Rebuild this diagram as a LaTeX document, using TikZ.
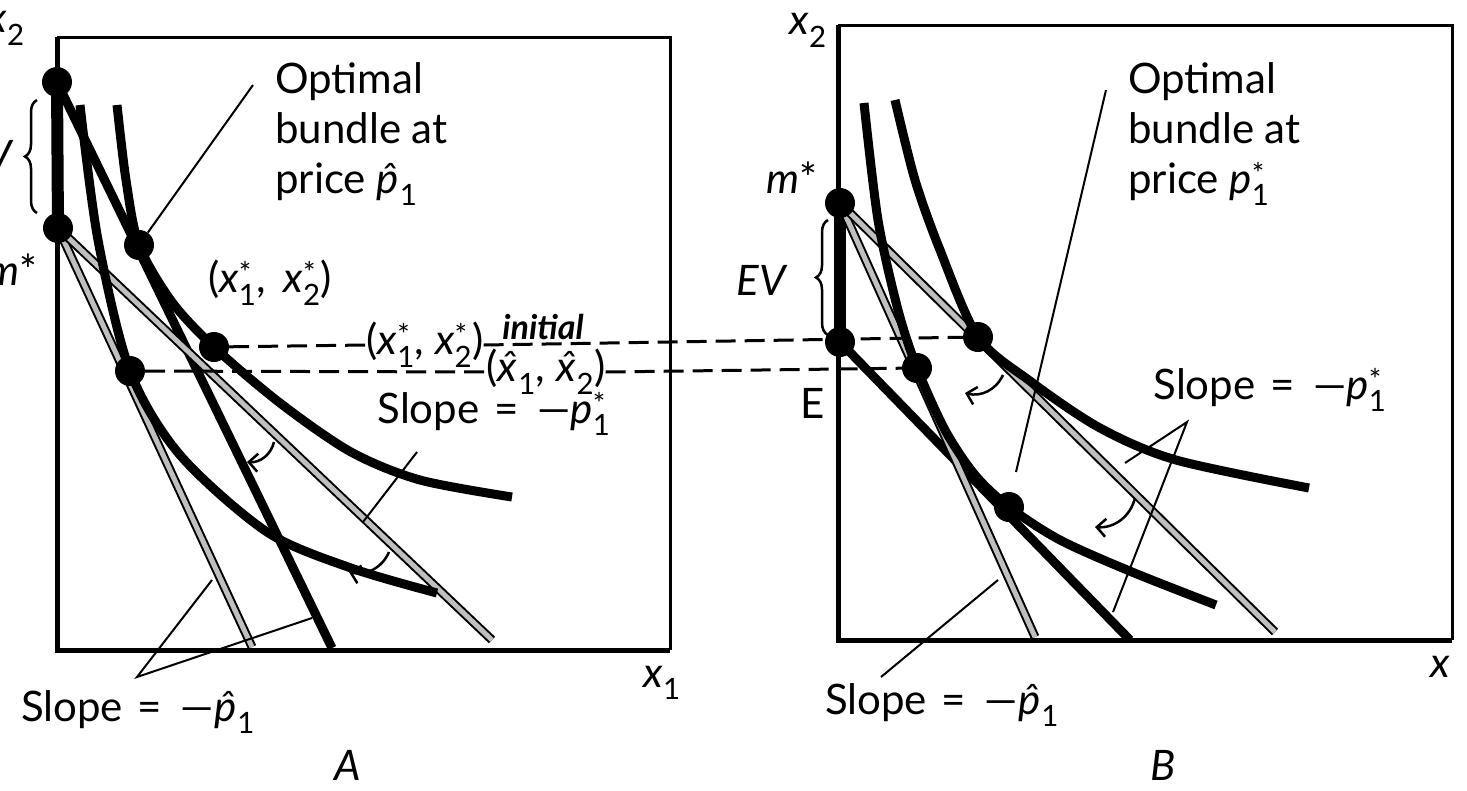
\documentclass[tikz,border=0pt]{standalone}
\usepackage{fontspec}
\setmainfont{Lato}
\usetikzlibrary{arrows.meta,decorations.pathreplacing,positioning}
\newcommand{\xst}[1]{\textit{x}\rlap{\textsuperscript{*}}\textsubscript{#1}}
\newcommand{\xht}[1]{\textit{\^{x}}\textsubscript{#1}}
\newcommand{\pst}{\textit{p}\rlap{\textsuperscript{*}}\textsubscript{1}}
\newcommand{\pht}{\textit{\^{p}}\textsubscript{1}}
\newcommand{\slopeis}{Slope\hspace{0.35em}=\hspace{0.45em}—}
\begin{document}
\begin{tikzpicture}[x=1pt,y=-1pt,
  every node/.style={font=\fontsize{42}{50}\selectfont,inner sep=0pt},
  axisline/.style={line width=5pt},
  frameline/.style={line width=3pt},
  indiff/.style={line width=9pt},
  budget/.style={line width=2pt,double=black!25,double distance=5pt},
  pointer/.style={line width=2pt},
  guide/.style={line width=3pt,dash pattern=on 20pt off 9pt},
  bullet/.style={circle,fill=black,minimum size=30pt},
  move/.style={line width=2.5pt,-{Straight Barb[length=9pt,width=18pt]}},
  brace/.style={decorate,decoration={brace,amplitude=12pt},line width=2.5pt}]
\useasboundingbox (0,0) rectangle (1467,790);
% panel A
\coordinate (Atop) at (57,82);
\coordinate (Am) at (58,228);
\coordinate (Ap) at (139,245);
\coordinate (Ax) at (214,347);
\coordinate (Ah) at (130,371);
\draw[frameline] (57,37) -- (670,37) -- (670,650);
\draw[axisline] (57,37) -- (57,650) -- (670,650);
\draw[line width=12pt] (Atop) -- (Am);
\draw[indiff] (Atop) -- (332,648);
\draw[budget] (Am) -- (252,647);
\draw[budget] (Am) -- (492,640);
\draw[indiff] plot[smooth] coordinates {(117,105) (126,180) (139,245) (172,302) (214,347) (280,403) (351,452) (420,480) (512,497)};
\draw[indiff] plot[smooth] coordinates {(80,105) (98,240) (130,371) (180,455) (267,532) (351,568) (437,593)};
\node[bullet] (dAtop) at (Atop) {};
\node[bullet] (dAm) at (Am) {};
\node[bullet] (dAp) at (Ap) {};
\node[bullet] (dAx) at (Ax) {};
\node[bullet] (dAh) at (Ah) {};
\node[anchor=east] (Ax2) at (25,28) {\textit{x}\textsubscript{2}};
\node[anchor=east] (Acv) at (14,155) {\textit{CV}};
\node[anchor=east] (Amst) at (38,270) {\textit{m}*};
\draw[brace] (37,213) -- (37,100);
\node (AxsUp) at (270,283) {(\xst{1},\, \xst{2})};
\node[anchor=north west,align=left] (AOpt) at (275,62) {Optimal\\bundle at\\price \pht};
\coordinate (AOptEnd) at (253,85);
\draw[pointer] (AOptEnd) -- (dAp);
% panel B
\coordinate (Bm) at (840,203);
\coordinate (BE) at (840,342);
\coordinate (Bmid) at (917,368);
\coordinate (Bright) at (978,337);
\coordinate (Blow) at (1009,507);
\draw[frameline] (838,25) -- (1452,25) -- (1452,640);
\draw[axisline] (838,25) -- (838,640) -- (1452,640);
\draw[line width=12pt] (Bm) -- (BE);
\draw[indiff] (BE) -- (1130,640);
\draw[budget] (Bm) -- (1035,637);
\draw[budget] (Bm) -- (1275,632);
\draw[indiff] plot[smooth] coordinates {(895,100) (915,180) (940,250) (978,337) (1030,381) (1100,428) (1176,460) (1309,488)};
\draw[indiff] plot[smooth] coordinates {(864,103) (878,220) (898,310) (917,368) (945,430) (975,475) (1009,507) (1060,540) (1132,572) (1216,605)};
\node[bullet] (dBm) at (Bm) {};
\node[bullet] (dBE) at (BE) {};
\node[bullet] (dBmid) at (Bmid) {};
\node[bullet] (dBright) at (Bright) {};
\node[bullet] (dBlow) at (Blow) {};
\node (Bx2) at (808,30) {\textit{x}\textsubscript{2}};
\node (Bmst) at (792,178) {\textit{m}*};
\node (BEV) at (762,280) {\textit{EV}};
\draw[brace] (828,335) -- (828,220);
\node (BElab) at (813,403) {E};
\node[anchor=north west,align=left] (BOpt) at (1128,62) {Optimal\\bundle at\\price \pst};
\coordinate (BOptEnd) at (1106,90);
\coordinate (BOptTip) at (1016,472);
\draw[pointer] (BOptEnd) -- (BOptTip);
% dashed guides
\node (Axs) at (425,345) {(\xst{1}, \xst{2})};
\node[anchor=south,font=\fontsize{34}{40}\selectfont\bfseries\itshape] (Aini) at (543,340) {initial};
\node (Axh) at (546,372) {(\xht{1}, \xht{2})};
\draw[guide] (dAx) -- (Axs.west);
\draw[guide] (Axs.east) -- (dBright);
\draw[guide] (dAh) -- (Axh.west);
\draw[guide] (Axh.east) -- (dBmid);
% slopes A
\node (AslS) at (494,414) {\slopeis\pst};
\coordinate (AslS1) at (417,452);
\coordinate (AslS2) at (363,522);
\draw[pointer] (AslS1) -- (AslS2);
\coordinate (Amv1a) at (274,442);
\coordinate (Amv1b) at (247,462);
\draw[move] (Amv1a) to[bend left=40] (Amv1b);
\coordinate (Amv2a) at (389,552);
\coordinate (Amv2b) at (349,572);
\draw[move] (Amv2a) to[bend left=40] (Amv2b);
\node (AslH) at (138,712) {\slopeis\pht};
\coordinate (AslH0) at (137,677);
\coordinate (AslH1) at (212,580);
\coordinate (AslH2) at (312,618);
\draw[pointer] (AslH1) -- (AslH0) -- (AslH2);
\node (Ax1) at (662,683) {\textit{x}\textsubscript{1}};
\node (Alab) at (348,765) {\textit{A}};
% slopes B
\node (BslS) at (1270,390) {\slopeis\pst};
\coordinate (BslS0) at (1187,422);
\coordinate (BslS1) at (1125,463);
\coordinate (BslS2) at (1113,612);
\draw[pointer] (BslS1) -- (BslS0) -- (BslS2);
\coordinate (Bmv1a) at (1003,375);
\coordinate (Bmv1b) at (965,393);
\draw[move] (Bmv1a) to[bend left=40] (Bmv1b);
\coordinate (Bmv2a) at (1135,498);
\coordinate (Bmv2b) at (1095,527);
\draw[move] (Bmv2a) to[bend left=40] (Bmv2b);
\node (BslH) at (942,705) {\slopeis\pht};
\coordinate (BslH0) at (881,677);
\coordinate (BslH1) at (998,580);
\draw[pointer] (BslH0) -- (BslH1);
\node (Bx1) at (1440,667) {\textit{x}};
\node (Blab) at (1163,765) {\textit{B}};
\end{tikzpicture}
\end{document}
